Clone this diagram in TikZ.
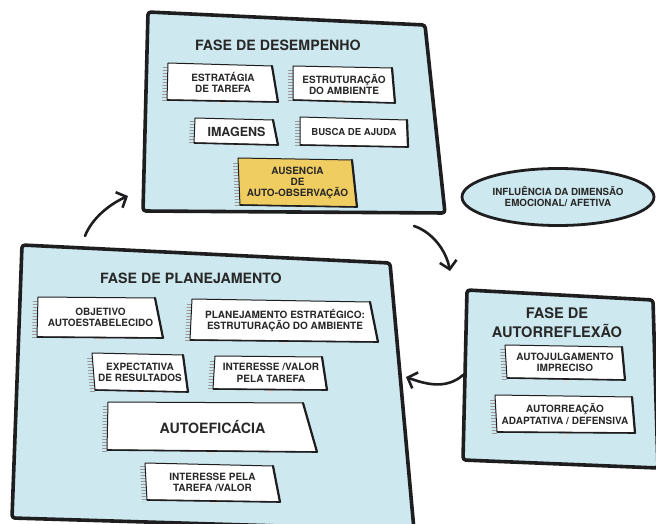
\documentclass[tikz,border=0pt]{standalone}
\usepackage{fontspec}
\setmainfont{TeX Gyre Heros}
\usetikzlibrary{calc,arrows.meta,patterns,shapes.geometric}

\definecolor{phaseblue}{RGB}{205,232,238}
\definecolor{gapyellow}{RGB}{240,205,96}
\definecolor{ink}{RGB}{40,40,40}
\definecolor{frame}{RGB}{30,30,32}

\tikzset{
  phase/.style={fill=phaseblue, draw=frame, line width=3.6pt, rounded corners=3pt, line join=round},
  card/.style={draw=frame, line width=1pt, line join=round},
  cardedge/.style={draw=frame, line width=2.2pt, line cap=round},
  hatch/.style={pattern=horizontal lines, pattern color=black!40},
  notch/.style={fill=black!12},
  lbl/.style={text=ink, font=\bfseries\fontsize{10}{11.5}\selectfont, align=center, inner sep=0pt},
  phasetitle/.style={text=ink, font=\bfseries\fontsize{14.2}{18}\selectfont, align=center, inner sep=0pt},
  cyclearrow/.style={draw=frame, line width=2.6pt, line cap=round,
    -{Straight Barb[length=8pt,width=17pt,line width=2.6pt]}},
}

% #1 name, #2-#5 corners (tl, tr, br, bl), #6 fill, #7 extra label keys, #8 text
\newcommand\card[8]{%
  \fill[hatch] ($(#2)+(-5,3)$) -- ($(#2)+(0,3)$) -- ($(#5)+(0,2)$) -- ($(#5)+(-5,2)$) -- cycle;
  \fill[notch] ($(#5)!0.5!(#4)+(-5,0)$) -- ++(10,0) -- ++(-5,4) -- cycle;
  \filldraw[card, fill=#6] (#2) -- (#3) -- (#4) -- (#5) -- cycle;
  \draw[cardedge] (#3) -- (#4);
  \draw[card, line width=1.6pt] (#4) -- (#5);
  \node[lbl, #7] (#1) at ($(#2)!0.5!(#4)$) {#8};
}

\begin{document}
\begin{tikzpicture}[x=1pt, y=-1pt]
  \fill[white] (0,0) rectangle (656,524);
  \useasboundingbox (0,0) rectangle (656,524);

  % ---- performance phase ----
  \draw[phase] (148,12) -- (425,25) -- (445,213) -- (143,211) -- cycle;
  \node[phasetitle] (perf) at (278,45) {FASE DE DESEMPENHO};
  \card{strat}{168,63}{272,66}{278,102}{167,100}{white}{}{ESTRATÁGIA\\DE TAREFA}
  \card{envir}{293,66}{392,68}{395,103}{293,100}{white}{}{ESTRUTURAÇÃO\\DO AMBIENTE}
  \card{imag}{195,118}{273,120}{278,145}{194,143}{white}{font=\bfseries\fontsize{12.5}{14}\selectfont}{IMAGENS}
  \card{help}{300,117}{407,120}{408,147}{300,145}{white}{font=\bfseries\fontsize{9.6}{11}\selectfont}{BUSCA DE AJUDA}
  \card{obs}{238,158}{352,160}{357,207}{240,205}{gapyellow}{font=\bfseries\fontsize{10}{11}\selectfont}{AUSENCIA\\DE\\AUTO-OBSERVAÇÃO}

  % ---- emotional influence ----
  \node[ellipse, draw=frame, line width=2.8pt, fill=phaseblue, minimum width=192pt, minimum height=57pt,
        lbl, font=\bfseries\fontsize{9.8}{11}\selectfont] (emo) at (558,197)
        {INFLUÊNCIA DA DIMENSÃO\\EMOCIONAL/ AFETIVA};

  % ---- planning phase ----
  \draw[phase] (22,245) -- (390,263) -- (414,530) -- (12,518) -- cycle;
  \node[phasetitle] (plan) at (191,278) {FASE DE PLANEJAMENTO};
  \card{goal}{38,297}{155,298}{163,338}{37,337}{white}{}{OBJETIVO\\AUTOESTABELECIDO}
  \card{strplan}{192,299}{370,302}{378,342}{190,340}{white}{}{PLANEJAMENTO ESTRATÉGICO:\\ESTRUTURAÇÃO DO AMBIENTE}
  \card{expect}{92,353}{183,355}{188,392}{95,390}{white}{}{EXPECTATIVA\\DE RESULTADOS}
  \card{interest}{215,356}{322,357}{327,390}{213,389}{white}{}{INTERESSE /VALOR\\PELA TAREFA}
  \card{selfeff}{108,402}{303,403}{317,452}{107,450}{white}{font=\bfseries\fontsize{14.2}{16}\selectfont}{AUTOEFICÁCIA}
  \card{value}{145,463}{273,466}{280,502}{147,500}{white}{}{INTERESSE PELA\\TAREFA /VALOR}

  % ---- self-reflection phase ----
  \draw[phase] (467,290) -- (653,300) -- (658,468) -- (463,460) -- cycle;
  \node[phasetitle, font=\bfseries\fontsize{14.6}{19}\selectfont] (refl) at (557,323) {FASE DE\\AUTORREFLEXÃO};
  \card{judge}{505,345}{622,347}{625,380}{507,378}{white}{}{AUTOJULGAMENTO\\IMPRECISO}
  \card{react}{495,395}{632,397}{635,433}{497,432}{white}{}{AUTORREAÇÃO\\ADAPTATIVA / DEFENSIVA}

  % ---- cycle arrows ----
  \coordinate (a1s) at (85,236);   \coordinate (a1e) at (128,196);
  \coordinate (a2s) at (414,226);  \coordinate (a2e) at (450,271);
  \coordinate (a3s) at (463,375);  \coordinate (a3e) at (406,377);
  \draw[cyclearrow] (a1s) .. controls (92,218) and (110,204) .. (a1e);
  \draw[cyclearrow] (a2s) .. controls (432,232) and (446,250) .. (a2e);
  \draw[cyclearrow] (a3s) .. controls (446,390) and (425,384) .. (a3e);
\end{tikzpicture}
\end{document}
